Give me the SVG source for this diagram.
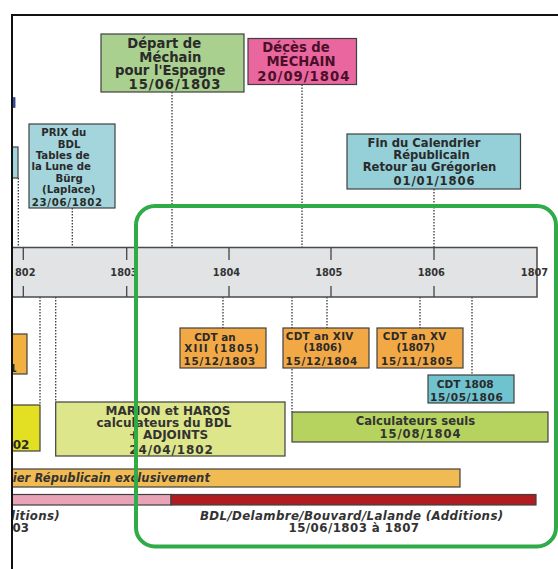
<svg xmlns="http://www.w3.org/2000/svg" width="558" height="569" viewBox="0 0 558 569">
  <defs>
    <clipPath id="inside">
      <rect x="13" y="16" width="545" height="553"/>
    </clipPath>
    <style>
      .box { stroke: #404040; stroke-width: 1.2; }
      .t { font-family: "DejaVu Sans", "Liberation Sans", sans-serif; font-weight: bold; fill: #2a2a2a; text-anchor: middle; }
      .it { font-style: italic; }
      .dot { stroke: #3a3a3a; stroke-width: 1.3; stroke-dasharray: 1.5 1.5; fill: none; }
      .tick { stroke: #444; stroke-width: 1.3; }
      .yr { font-size: 9.8px; fill: #333; }
    </style>
  </defs>

  <rect width="558" height="569" fill="#ffffff"/>

  <g clip-path="url(#inside)">
    <!-- connectors: dotted drop lines to the time axis -->
    <g id="connectors">
      <line class="dot" x1="18.3" y1="178" x2="18.3" y2="247.5"/>
      <line class="dot" x1="72.3" y1="208" x2="72.3" y2="247.5"/>
      <line class="dot" x1="172" y1="92" x2="172" y2="247.5"/>
      <line class="dot" x1="302" y1="84.5" x2="302" y2="247.5"/>
      <line class="dot" x1="434" y1="189" x2="434" y2="247.5"/>
      <line class="dot" x1="40" y1="297" x2="40" y2="405"/>
      <line class="dot" x1="55.7" y1="297" x2="55.7" y2="402"/>
      <line class="dot" x1="223" y1="297" x2="223" y2="328"/>
      <line class="dot" x1="292" y1="297" x2="292" y2="412"/>
      <line class="dot" x1="327" y1="297" x2="327" y2="328"/>
      <line class="dot" x1="420" y1="297" x2="420" y2="328"/>
      <line class="dot" x1="472" y1="297" x2="472" y2="375"/>
    </g>

    <!-- partial items at the left edge -->
    <g id="edge-items">
      <rect x="10" y="97.7" width="5" height="9.6" fill="#3a4fa0" stroke="#2a356e" stroke-width="0.8"/>
      <rect x="8" y="147" width="10" height="31" fill="#a5d5dc" class="box"/>
      <rect x="8" y="334" width="19" height="40" fill="#f1b040" class="box"/>
      <text class="t" x="17" y="372" font-size="11" style="text-anchor:end">1</text>
      <rect x="8" y="405" width="32" height="46" fill="#e3df22" class="box"/>
      <text class="t" x="12.7" y="449" font-size="12" style="text-anchor:start">02</text>
    </g>

    <g id="depart">
      <rect x="101" y="34" width="143" height="58" fill="#a9d08e" class="box"/>
      <text class="t" font-size="13.2">
        <tspan x="166.5" y="47.8">Départ de</tspan>
        <tspan x="172.7" y="61.6">Méchain</tspan>
        <tspan x="172.5" y="74.8">pour l'Espagne</tspan>
        <tspan x="175" y="88.6" letter-spacing="1">15/06/1803</tspan>
      </text>
    </g>

    <g id="deces">
      <rect x="248" y="38.5" width="108.5" height="46" fill="#ea669e" class="box"/>
      <text class="t" font-size="13.2" style="fill:#4a1028">
        <tspan x="298.3" y="52">Décès de</tspan>
        <tspan x="303.3" y="66.4">MÉCHAIN</tspan>
        <tspan x="303.8" y="81.4" letter-spacing="1">20/09/1804</tspan>
      </text>
    </g>

    <g id="prix">
      <rect x="29" y="124" width="86" height="84" fill="#a5d5dc" class="box"/>
      <text class="t" font-size="10.2">
        <tspan x="65.5" y="136.4">PRIX du</tspan>
        <tspan x="71" y="147.6">BDL</tspan>
        <tspan x="64.5" y="159">Tables de</tspan>
        <tspan x="63" y="170.4">la Lune de</tspan>
        <tspan x="71" y="181.8">Bürg</tspan>
        <tspan x="70.5" y="193.4">(Laplace)</tspan>
        <tspan x="67.3" y="205.8" letter-spacing="0.7">23/06/1802</tspan>
      </text>
    </g>

    <g id="fin-calendrier">
      <rect x="347" y="134" width="173.5" height="55" fill="#95cfd8" class="box"/>
      <text class="t" font-size="11.6">
        <tspan x="426" y="147.2">Fin du Calendrier</tspan>
        <tspan x="433.5" y="159.4">Républicain</tspan>
        <tspan x="431.5" y="171.4">Retour au Grégorien</tspan>
        <tspan x="434.5" y="185.4" letter-spacing="0.9">01/01/1806</tspan>
      </text>
    </g>

    <!-- time axis -->
    <g id="timeline">
      <rect x="10" y="247.5" width="527" height="49.5" fill="#e1e3e5" stroke="#4a4a4a" stroke-width="1.5"/>
      <line class="tick" x1="23.3" y1="247.5" x2="23.3" y2="260"/>
      <line class="tick" x1="23.3" y1="286" x2="23.3" y2="297"/>
      <line class="tick" x1="126.7" y1="247.5" x2="126.7" y2="260"/>
      <line class="tick" x1="126.7" y1="286" x2="126.7" y2="297"/>
      <line class="tick" x1="229" y1="247.5" x2="229" y2="260"/>
      <line class="tick" x1="229" y1="286" x2="229" y2="297"/>
      <line class="tick" x1="331" y1="247.5" x2="331" y2="260"/>
      <line class="tick" x1="331" y1="286" x2="331" y2="297"/>
      <line class="tick" x1="434" y1="247.5" x2="434" y2="260"/>
      <line class="tick" x1="434" y1="286" x2="434" y2="297"/>
      <text class="t yr" x="15" y="276.3" style="text-anchor:start">802</text>
      <text class="t yr" x="124" y="276.3">1803</text>
      <text class="t yr" x="226.5" y="276.3">1804</text>
      <text class="t yr" x="328.8" y="276.3">1805</text>
      <text class="t yr" x="431.3" y="276.3">1806</text>
      <text class="t yr" x="534.5" y="276.3">1807</text>
    </g>

    <g id="cdt-xiii">
      <rect x="180" y="328" width="86" height="40" fill="#f3a846" class="box"/>
      <text class="t" font-size="10.4">
        <tspan x="216.7" y="340.6">CDT an</tspan>
        <tspan x="224" y="351.6" letter-spacing="1.3">XIII (1805)</tspan>
        <tspan x="219.8" y="365.4" letter-spacing="0.7">15/12/1803</tspan>
      </text>
    </g>

    <g id="cdt-xiv">
      <rect x="283" y="328" width="86" height="40" fill="#f3a846" class="box"/>
      <text class="t" font-size="10.4">
        <tspan x="321.5" y="340.4" letter-spacing="0.3">CDT an XIV</tspan>
        <tspan x="324.5" y="351.4">(1806)</tspan>
        <tspan x="321.8" y="365.4" letter-spacing="0.7">15/12/1804</tspan>
      </text>
    </g>

    <g id="cdt-xv">
      <rect x="377" y="328" width="86" height="40" fill="#f3a846" class="box"/>
      <text class="t" font-size="10.4">
        <tspan x="416.5" y="340.4" letter-spacing="0.3">CDT an XV</tspan>
        <tspan x="417.5" y="351.4">(1807)</tspan>
        <tspan x="417.3" y="365.4" letter-spacing="0.7">15/11/1805</tspan>
      </text>
    </g>

    <g id="cdt-1808">
      <rect x="428" y="375" width="86" height="28" fill="#6fc3cf" class="box"/>
      <text class="t" font-size="10.6">
        <tspan x="467" y="388">CDT 1808</tspan>
        <tspan x="466.8" y="401" letter-spacing="0.7">15/05/1806</tspan>
      </text>
    </g>

    <g id="marion-haros">
      <rect x="55.7" y="402" width="229.3" height="54" fill="#dde68a" class="box"/>
      <text class="t" font-size="12" style="fill:#333">
        <tspan x="170" y="414.5">MARION et HAROS</tspan>
        <tspan x="166" y="427">calculateurs du BDL</tspan>
        <tspan x="170.5" y="439">+ ADJOINTS</tspan>
        <tspan x="171.5" y="453.5" letter-spacing="0.9">24/04/1802</tspan>
      </text>
    </g>

    <g id="calculateurs">
      <rect x="292" y="412" width="256" height="30" fill="#b7d35f" class="box"/>
      <text class="t" font-size="11.6" style="fill:#333">
        <tspan x="417.5" y="425">Calculateurs seuls</tspan>
        <tspan x="420.5" y="438.3" letter-spacing="0.9">15/08/1804</tspan>
      </text>
    </g>

    <g id="calendrier-republicain">
      <rect x="8" y="469" width="452" height="18" fill="#f0bb52" class="box"/>
      <text class="t it" x="210" y="482" font-size="11.5" letter-spacing="0.1" style="text-anchor:end;fill:#333">ier Républicain exclusivement</text>
    </g>

    <g id="additions">
      <rect x="8" y="494.5" width="163" height="10.5" fill="#e9a3b8" class="box"/>
      <rect x="171" y="494.5" width="365" height="10.5" fill="#b01c1f" class="box"/>
      <text class="t it" x="60" y="520.3" font-size="11.8" letter-spacing="0.3" style="text-anchor:end;fill:#333">ditions)</text>
      <text class="t" x="29" y="532.3" font-size="11.8" style="text-anchor:end;fill:#333">03</text>
      <text class="t it" font-size="11.8" letter-spacing="0.36" style="fill:#333">
        <tspan x="354" y="520.3">BDL/Delambre/Bouvard/Lalande (Additions)</tspan>
        <tspan x="354" y="532.3" letter-spacing="0.45" font-style="normal">15/06/1803 à 1807</tspan>
      </text>
    </g>
  </g>

  <!-- highlight frame -->
  <rect id="highlight" x="136" y="206" width="420" height="340.5" rx="19" ry="19" fill="none" stroke="#2fab47" stroke-width="4"/>

  <!-- outer frame edges -->
  <g id="frame" stroke="#111" stroke-width="2">
    <line x1="11" y1="15" x2="558" y2="15"/>
    <line x1="12" y1="14" x2="12" y2="569"/>
  </g>
</svg>
